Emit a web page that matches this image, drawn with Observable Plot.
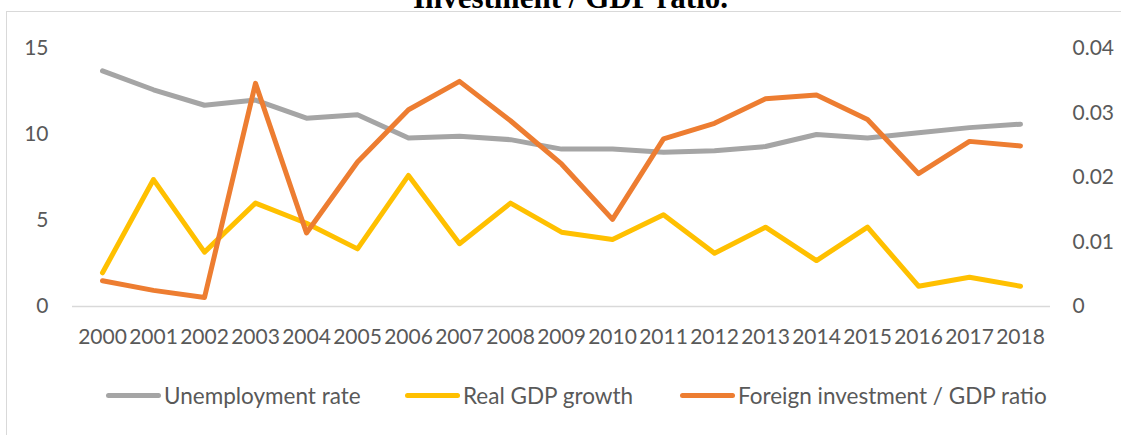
<!DOCTYPE html>
<html>
<head>
<meta charset="utf-8">
<script src="https://cdn.jsdelivr.net/npm/d3@7"></script>
<script src="https://cdn.jsdelivr.net/npm/@observablehq/plot@0.6"></script>
<style>
  body { margin: 0; background: #fff; }
  #wrap { position: relative; width: 1121px; height: 435px; overflow: hidden; background: #fff; font-family: Lato, sans-serif; }
  #frame { position: absolute; left: 6px; top: 11px; width: 1400px; height: 800px; border: 1.5px solid #D9D9D9; box-sizing: border-box; }
  #title { position: absolute; left: 0; top: -18px; width: 1141px; text-align: center; font: bold 31px/1 "Liberation Serif", serif; color: #000; white-space: nowrap; }
  #chart { position: absolute; left: 0; top: 0; }
  .leg { position: absolute; top: 382px; height: 26px; display: flex; align-items: center; font-size: 22.5px; color: #595959; white-space: nowrap; }
  .sw { width: 55px; height: 5px; border-radius: 3px; margin-right: 3px; }
</style>
</head>
<body>
<div id="wrap">
  <div id="frame"></div>
  <div id="title">Investment / GDP ratio.</div>
  <div id="chart"></div>
</div>
<script>
const years = ["2000","2001","2002","2003","2004","2005","2006","2007","2008","2009","2010","2011","2012","2013","2014","2015","2016","2017","2018"];
const unemployment = [13.7,12.6,11.7,12.0,10.95,11.15,9.8,9.9,9.7,9.15,9.15,8.97,9.05,9.3,10.0,9.8,10.1,10.4,10.6];
const gdpGrowth = [1.96,7.38,3.16,6.01,4.84,3.35,7.62,3.65,6.01,4.32,3.9,5.33,3.1,4.61,2.67,4.61,1.18,1.7,1.18];
const fdiRatio = [0.0040,0.0025,0.0014,0.0346,0.0114,0.0224,0.0305,0.0349,0.0288,0.0221,0.0135,0.0260,0.0284,0.0322,0.0328,0.0290,0.0206,0.0256,0.0249];
const leftTicks = [0,5,10,15];
const rightTicks = [0,0.01,0.02,0.03,0.04];
const seriesNames = ["Unemployment rate","Real GDP growth","Foreign investment / GDP ratio"];
const colors = ["#A5A5A5","#FFC000","#ED7D31"];

const leftMax = 15, rightMax = 0.04;
const k = leftMax / rightMax;

const rows = s => years.map((y, i) => ({year: y, value: s[i]}));
const unemp = rows(unemployment);
const gdp = rows(gdpGrowth);
const fdi = years.map((y, i) => ({year: y, value: fdiRatio[i] * k}));

const lineOpts = (c) => ({x: "year", y: "value", stroke: c, strokeWidth: 5, strokeLinejoin: "round", strokeLinecap: "round"});

const plot = Plot.plot({
  width: 1121,
  height: 360,
  marginTop: 48,
  marginBottom: 54,
  marginLeft: 72,
  marginRight: 71,
  style: {fontFamily: "Lato, sans-serif", fontSize: "21px", color: "#595959", background: "transparent", overflow: "visible"},
  x: {type: "point", domain: years, padding: 0.5},
  y: {domain: [0, leftMax]},
  marks: [
    Plot.axisX({tickSize: 0, tickPadding: 23, label: null}),
    Plot.axisY({anchor: "left", ticks: leftTicks, tickSize: 0, tickPadding: 24, label: null, tickFormat: d => String(d)}),
    Plot.axisY({anchor: "right", ticks: rightTicks.map(t => t * k), tickSize: 0, tickPadding: 22, label: null, textAnchor: "start",
      tickFormat: d => { const v = d / k; return v === 0 ? "0" : v.toFixed(2); }}),
    Plot.ruleY([0], {stroke: "#D9D9D9", strokeWidth: 1.5}),
    Plot.line(unemp, lineOpts(colors[0])),
    Plot.line(gdp, lineOpts(colors[1])),
    Plot.line(fdi, lineOpts(colors[2]))
  ]
});
document.getElementById("chart").appendChild(plot);

const legX = [106, 405, 680];
const wrap = document.getElementById("wrap");
seriesNames.forEach((n, i) => {
  const d = document.createElement("div");
  d.className = "leg";
  d.style.left = legX[i] + "px";
  const sw = document.createElement("div");
  sw.className = "sw";
  sw.style.background = colors[i];
  const t = document.createElement("span");
  t.textContent = n;
  d.appendChild(sw); d.appendChild(t);
  wrap.appendChild(d);
});
</script>
</body>
</html>
